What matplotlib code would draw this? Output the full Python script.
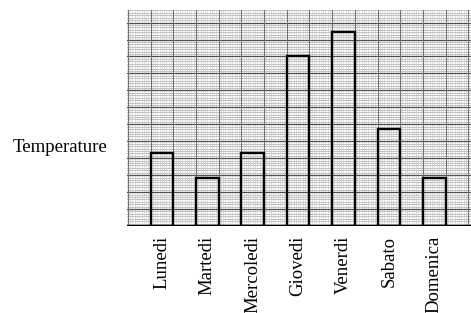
import numpy as np
import matplotlib
matplotlib.use("Agg")
import matplotlib.pyplot as plt

days = ["Lunedi", "Martedi", "Mercoledi", "Giovedi", "Venerdi", "Sabato", "Domenica"]
temps = [15, 10, 15, 35, 40, 20, 10]
y_label = "Temperature"

plt.rcParams['font.family'] = ['Liberation Serif', 'DejaVu Serif']

fig = plt.figure(figsize=(4.71, 3.13), dpi=100)
ax = fig.add_axes([127/471, 87/313, 344/471, 216/313])
ax.set_xlim(-0.77, 6.81)
ax.set_ylim(0, 44.6)

# graph paper
for y in np.arange(0, 45, 0.5):
    ax.axhline(y, color='#a8a8a8', lw=0.5, zorder=0)
for y in np.arange(0, 45, 3.5):
    ax.axhline(y, color='#505050', lw=0.9, zorder=0.5)
for x in np.arange(-0.75, 6.85, 0.05):
    ax.axvline(x, color='#c4c4c4', lw=0.4, zorder=0)
for x in np.arange(-0.75, 6.85, 0.5):
    ax.axvline(x, color='#707070', lw=0.8, zorder=0.5)

x = np.arange(len(days))
ax.bar(x, temps, width=0.5, facecolor='none', edgecolor='black', linewidth=1.7, zorder=3)
ax.axhline(0, color='black', lw=1.7, zorder=4)

for s in ax.spines.values():
    s.set_visible(False)
ax.set_xticks(x)
ax.set_xticklabels(days, rotation=90, fontsize=13.5, va='top', ha='center')
ax.tick_params(axis='x', length=0, pad=7)
ax.set_yticks([])

fig.text(60/471, 1 - 148/313, y_label, fontsize=13.5, ha='center', va='center')

fig.savefig("out.png", dpi=100)
